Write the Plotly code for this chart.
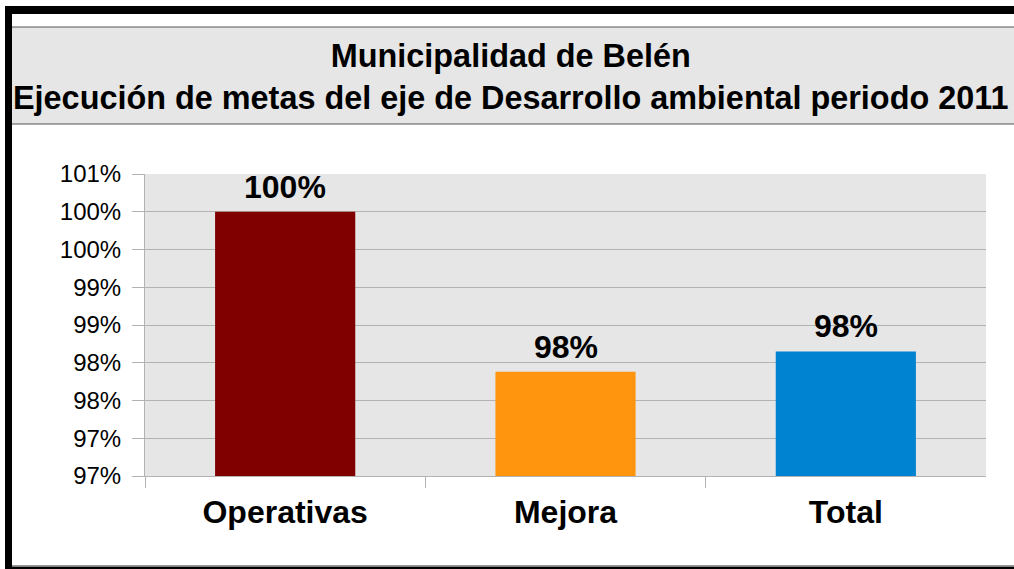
import plotly.graph_objects as go

categories = ["Operativas", "Mejora", "Total"]
values = [1.0, 0.9788, 0.9815]
bar_colors = ["#800000", "#ff950e", "#0084d1"]
bar_labels = ["100%", "98%", "98%"]
tick_values = [0.965, 0.970, 0.975, 0.980, 0.985, 0.990, 0.995, 1.000, 1.005]
tick_labels = ["97%", "97%", "98%", "98%", "99%", "99%", "100%", "100%", "101%"]
title_lines = ["Municipalidad de Belén",
               "Ejecución de metas del eje de Desarrollo ambiental periodo 2011"]

W, H = 1014, 569
FONT = "Liberation Sans, Arial, sans-serif"

def px_x(x):
    return x / W

def px_y(y):
    return 1 - y / H

fig = go.Figure()
fig.add_trace(go.Bar(
    x=categories, y=values,
    marker=dict(color=bar_colors, line=dict(width=0)),
    width=0.5,
    cliponaxis=False,
    hoverinfo="skip",
))

shapes = [
    # title box
    dict(type="rect", xref="paper", yref="paper",
         x0=px_x(9), x1=px_x(1020), y0=px_y(124), y1=px_y(27),
         fillcolor="#e6e6e6", line=dict(color="#555555", width=1), layer="below"),
    # black top band
    dict(type="rect", xref="paper", yref="paper",
         x0=px_x(5), x1=px_x(1020), y0=px_y(14), y1=px_y(6),
         fillcolor="black", line=dict(width=0)),
    # black left band
    dict(type="rect", xref="paper", yref="paper",
         x0=px_x(5), x1=px_x(12), y0=px_y(568), y1=px_y(6),
         fillcolor="black", line=dict(width=0)),
    # bottom line
    dict(type="rect", xref="paper", yref="paper",
         x0=px_x(5), x1=px_x(1020), y0=px_y(570), y1=px_y(566.5),
         fillcolor="black", line=dict(width=0)),
    dict(type="line", xref="paper", yref="paper",
         x0=px_x(12), x1=px_x(1020), y0=px_y(565.5), y1=px_y(565.5),
         line=dict(color="#999999", width=1)),
]

annotations = [
    dict(text="<b>" + "</b><br><b>".join(title_lines) + "</b>",
         xref="paper", yref="paper", x=px_x(511), y=px_y(77),
         xanchor="center", yanchor="middle", showarrow=False,
         font=dict(family=FONT, size=32.4, color="black")),
]
for cat, val, lab in zip(categories, values, bar_labels):
    annotations.append(dict(
        text="<b>" + lab + "</b>", x=cat, y=val, xref="x", yref="y",
        xanchor="center", yanchor="middle", yshift=25, showarrow=False,
        font=dict(family=FONT, size=32, color="black")))

fig.update_layout(
    template="none",
    width=W, height=H,
    margin=dict(l=0, r=0, t=0, b=0, pad=0, autoexpand=False),
    paper_bgcolor="white",
    plot_bgcolor="#e6e6e6",
    showlegend=False,
    bargap=0.5,
    font=dict(family=FONT, color="black"),
    shapes=shapes,
    annotations=annotations,
    xaxis=dict(
        domain=[px_x(145), px_x(986)],
        type="category",
        automargin=False,
        tickson="boundaries",
        ticks="outside", ticklen=11, tickcolor="#b3b3b3", tickwidth=1,
        showline=True, linecolor="#b3b3b3", linewidth=1,
        showgrid=False,
        tickfont=dict(family=FONT, size=32, color="black", weight="bold"),
        ticklabelstandoff=8,
        mirror=False,
    ),
    yaxis=dict(
        domain=[px_y(476), px_y(174)],
        range=[0.965, 1.005],
        automargin=False,
        tickvals=tick_values, ticktext=tick_labels,
        ticks="outside", ticklen=12, tickcolor="#b3b3b3", tickwidth=1,
        showline=True, linecolor="#b3b3b3", linewidth=1,
        showgrid=True, gridcolor="#b3b3b3", gridwidth=1,
        zeroline=False,
        tickfont=dict(family=FONT, size=24, color="black"),
        ticklabelstandoff=6,
    ),
)

fig.write_html("out.html",
               config={"displayModeBar": False, "staticPlot": True},
               post_script="document.body.style.margin='0';document.body.style.overflow='hidden';")
